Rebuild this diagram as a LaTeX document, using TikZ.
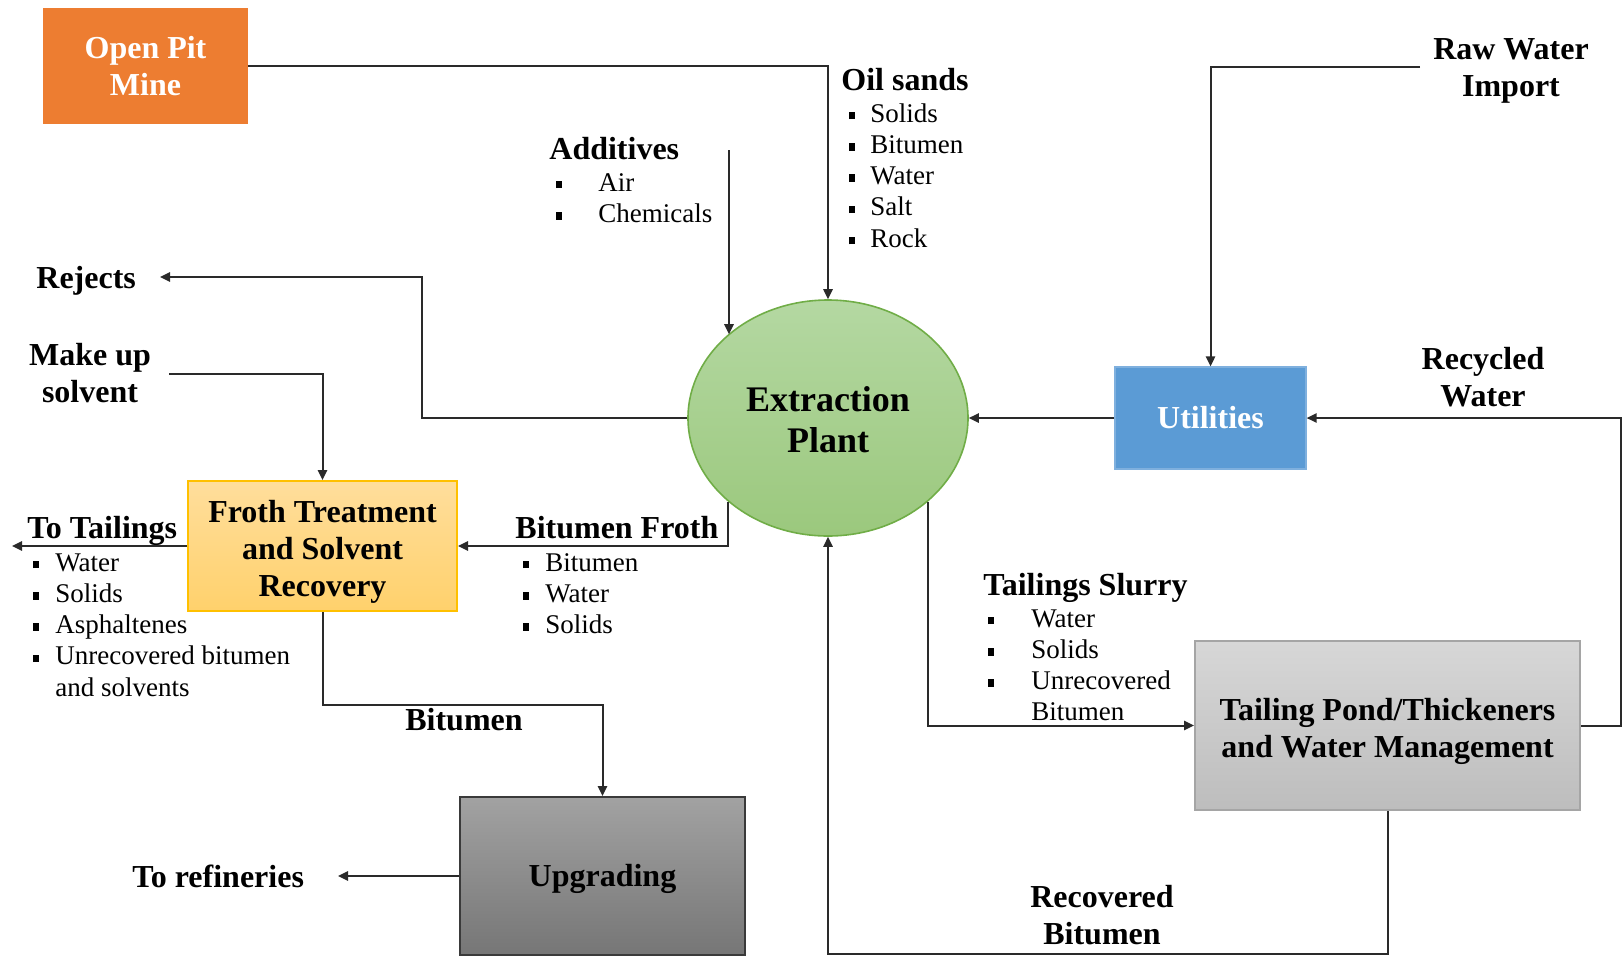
\documentclass[tikz,border=0pt]{standalone}
\usepackage{fontspec}
\setmainfont{Liberation Serif}
\usetikzlibrary{shapes.geometric,arrows.meta,calc}
\definecolor{orangebox}{HTML}{ED7D31}
\definecolor{bluebox}{HTML}{5B9BD5}
\definecolor{blueline}{HTML}{7FB0DE}
\definecolor{greentop}{HTML}{B4D8A2}
\definecolor{greenbot}{HTML}{9BC87D}
\definecolor{greenline}{HTML}{70AD47}
\definecolor{yeltop}{HTML}{FFDE9C}
\definecolor{yelbot}{HTML}{FFD16C}
\definecolor{yelline}{HTML}{FFC000}
\definecolor{graytop}{HTML}{A2A2A2}
\definecolor{graybot}{HTML}{767676}
\definecolor{grayline}{HTML}{3A3A3A}
\definecolor{ltop}{HTML}{D7D7D7}
\definecolor{lbot}{HTML}{BDBDBD}
\definecolor{lline}{HTML}{A5A5A5}
\definecolor{linecol}{HTML}{2A2A2A}
\newcommand\bsq{\rule[1.4pt]{2.8pt}{3.8pt}}
\newcommand\li[2]{\makebox[#1][l]{\bsq}#2}
\newcommand\tpush[1]{\rule{0pt}{#1}}
\begin{document}
\begin{tikzpicture}[x=0.5pt,y=-0.5pt,
  hdr/.style={font=\fontsize{16}{18.75}\selectfont\bfseries, inner sep=0pt},
  lst/.style={font=\fontsize{13.5}{15.65}\selectfont, inner sep=0pt},
  boxtext/.style={font=\fontsize{16}{18.5}\selectfont\bfseries, align=center, inner sep=0pt},
  conn/.style={line width=1pt, draw=linecol},
  arr/.style={conn, -{Triangle[length=5pt,width=4.6pt]}},
]
\useasboundingbox (0,0) rectangle (1623,955);

% main nodes
\node[boxtext, fill=orangebox, text=white, minimum width=102.5pt, minimum height=58pt] (mine) at (145.5,66) {Open Pit\\Mine};
\node[boxtext, ellipse, draw=greenline, line width=0.8pt, top color=greentop, bottom color=greenbot,
      minimum width=140pt, minimum height=118pt, font=\fontsize{18}{20.5}\selectfont\bfseries] (ext) at (828,418) {\tpush{14.5pt}Extraction\\Plant};
\node[boxtext, fill=bluebox, draw=blueline, line width=0.6pt, text=white, minimum width=95.5pt, minimum height=51pt] (ut) at (1210.5,418) {Utilities};
\node[boxtext, top color=yeltop, bottom color=yelbot, draw=yelline, line width=1pt, minimum width=134.5pt, minimum height=65pt] (froth) at (322.5,546) {\tpush{16.5pt}Froth Treatment\\and Solvent\\Recovery};
\node[boxtext, top color=graytop, bottom color=graybot, draw=grayline, line width=1pt, minimum width=142.5pt, minimum height=79pt] (upg) at (602.5,876) {\tpush{14pt}Upgrading};
\node[boxtext, top color=ltop, bottom color=lbot, draw=lline, line width=1pt, minimum width=192.5pt, minimum height=84.5pt] (tail) at (1387.5,725.5) {\tpush{17pt}Tailing Pond/Thickeners\\and Water Management};

% labels
\node[hdr, anchor=base west] (oil) at (841,90) {Oil sands};
\node[lst, anchor=base west] (oill) at (849,122) {\begin{tabular}[t]{@{}l@{}}\li{10.5pt}{Solids}\\\li{10.5pt}{Bitumen}\\\li{10.5pt}{Water}\\\li{10.5pt}{Salt}\\\li{10.5pt}{Rock}\end{tabular}};
\node[hdr, anchor=base west] (add) at (549,159) {Additives};
\node[lst, anchor=base west] (addl) at (556,191) {\begin{tabular}[t]{@{}l@{}}\li{21pt}{Air}\\\li{21pt}{Chemicals}\end{tabular}};
\node[hdr, anchor=base west] (rej) at (36,288) {Rejects};
\node[hdr, anchor=base] (mus) at (90,365) {\begin{tabular}[t]{@{}c@{}}Make up\\solvent\end{tabular}};
\node[hdr, anchor=base] (rwi) at (1511,59) {\begin{tabular}[t]{@{}c@{}}Raw Water\\Import\end{tabular}};
\node[hdr, anchor=base] (rcw) at (1483,369) {\begin{tabular}[t]{@{}c@{}}Recycled\\Water\end{tabular}};
\node[hdr, anchor=base west] (totl) at (27,538) {To Tailings};
\node[lst, anchor=base west] (totll) at (33,571) {\begin{tabular}[t]{@{}l@{}}\li{11pt}{Water}\\\li{11pt}{Solids}\\\li{11pt}{Asphaltenes}\\\li{11pt}{Unrecovered bitumen}\\\hspace*{11pt}and solvents\end{tabular}};
\node[hdr, anchor=base west] (bf) at (515,538) {Bitumen Froth};
\node[lst, anchor=base west] (bfl) at (523,571) {\begin{tabular}[t]{@{}l@{}}\li{11pt}{Bitumen}\\\li{11pt}{Water}\\\li{11pt}{Solids}\end{tabular}};
\node[hdr, anchor=base] (bit) at (464,730) {Bitumen};
\node[hdr, anchor=base west] (ref) at (132,887) {To refineries};
\node[hdr, anchor=base west] (ts) at (983,595) {Tailings Slurry};
\node[lst, anchor=base west] (tsl) at (988,627) {\begin{tabular}[t]{@{}l@{}}\li{21.5pt}{Water}\\\li{21.5pt}{Solids}\\\li{21.5pt}{Unrecovered}\\\hspace*{21.5pt}Bitumen\end{tabular}};
\node[hdr, anchor=base] (rb) at (1102,907) {\begin{tabular}[t]{@{}c@{}}Recovered\\Bitumen\end{tabular}};

% free ends
\coordinate (addtop) at (729,150);
\coordinate (rejtip) at (160,277);
\coordinate (ms) at (169,374);
\coordinate (tt) at (12,546);
\coordinate (toref) at (338,876);
\coordinate (rw) at (1420,67);

% connectors
\draw[arr] (mine.east) -- (mine.east -| ext.north) -- (ext.north);
\draw[arr] (addtop) -- (addtop |- ext.140);
\draw[arr] (ext.west) -- ++(-265,0) |- (rejtip);
\draw[arr] (ms) -| (froth.north);
\draw[arr] (ext.220) |- (froth.east);
\draw[arr] (froth.west) -- (tt);
\draw[arr] (froth.south) -- ++(0,93) -| (upg.north);
\draw[arr] (upg.west) -- (toref);
\draw[arr] (ut.west) -- (ext.east);
\draw[arr] (rw) -| (ut.north);
\draw[arr] (tail.east) -- ++(40,0) |- (ut.east);
\draw[arr] (ext.320) |- (tail.west);
\draw[arr] (tail.south) -- ++(0,143) -| (ext.south);
\end{tikzpicture}
\end{document}
